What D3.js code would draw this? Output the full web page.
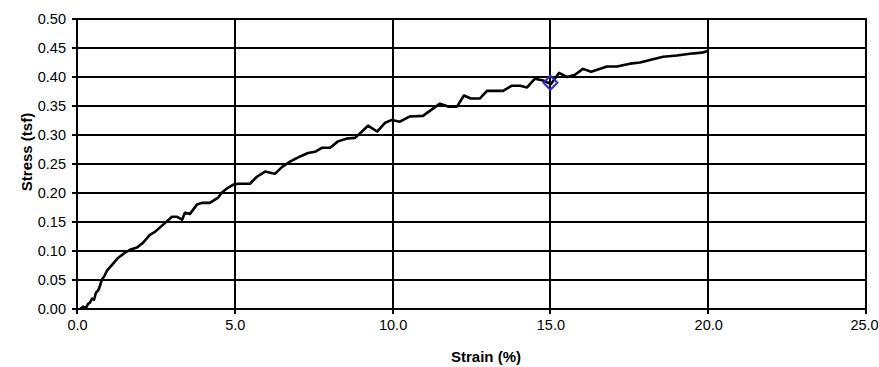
<!DOCTYPE html>
<html>
<head>
<meta charset="utf-8">
<script src="https://cdn.jsdelivr.net/npm/d3@7"></script>
<style>
  html, body { margin: 0; padding: 0; background: #fff; }
  svg { display: block; }
  text { font-family: "Liberation Sans", Arial, sans-serif; fill: #000; }
</style>
</head>
<body>
<svg id="chart" width="879" height="367"></svg>
<script>
// ---- data ----
const strain = [0.10,0.19,0.29,0.35,0.41,0.48,0.54,0.60,0.67,0.73,0.79,0.86,0.95,1.11,1.30,1.52,1.68,1.90,2.09,2.31,2.47,2.72,3.01,3.17,3.33,3.42,3.58,3.80,3.96,4.21,4.47,4.59,4.78,4.94,5.10,5.48,5.70,5.96,6.12,6.27,6.50,6.75,7.07,7.32,7.54,7.76,8.02,8.27,8.56,8.81,9.03,9.22,9.51,9.76,9.98,10.23,10.55,10.96,11.50,11.76,12.04,12.26,12.48,12.77,12.99,13.50,13.78,14.04,14.26,14.51,14.77,15.02,15.27,15.53,15.78,16.03,16.29,16.51,16.79,17.11,17.52,17.84,18.06,18.57,19.01,19.42,19.80,19.99];
const stress = [0.000,0.004,0.002,0.009,0.011,0.018,0.016,0.028,0.032,0.040,0.051,0.056,0.066,0.076,0.088,0.097,0.102,0.106,0.114,0.128,0.133,0.145,0.159,0.159,0.154,0.166,0.164,0.180,0.183,0.183,0.192,0.201,0.209,0.214,0.216,0.216,0.228,0.237,0.235,0.233,0.245,0.254,0.263,0.269,0.271,0.278,0.278,0.289,0.294,0.295,0.306,0.316,0.306,0.321,0.326,0.323,0.332,0.333,0.354,0.349,0.349,0.368,0.363,0.363,0.376,0.376,0.385,0.385,0.382,0.397,0.394,0.388,0.407,0.400,0.404,0.414,0.409,0.413,0.418,0.418,0.423,0.425,0.428,0.435,0.437,0.440,0.442,0.445];
const markerStrain = [15.0];
const markerStress = [0.39];
const xTicks = [0, 5, 10, 15, 20, 25];
const yTicks = [0, 0.05, 0.10, 0.15, 0.20, 0.25, 0.30, 0.35, 0.40, 0.45, 0.50];
const xTitle = "Strain (%)";
const yTitle = "Stress (tsf)";

(function () {
// ---- layout ----
const svg = d3.select("#chart");
const pL = 77, pR = 866, pT = 19, pB = 309;
const x = d3.scaleLinear().domain([0, 25]).range([pL, pR]);
const y = d3.scaleLinear().domain([0, 0.5]).range([pB, pT]);

// grid (integer positions, 2px wide -> crisp)
const grid = svg.append("g");
grid.selectAll("line.h").data(yTicks).join("line")
  .attr("x1", pL - 5).attr("x2", pR + 1)
  .attr("y1", d => Math.round(y(d))).attr("y2", d => Math.round(y(d)))
  .attr("stroke", "#000").attr("stroke-width", 2);
grid.selectAll("line.v").data(xTicks).join("line")
  .attr("y1", pT - 1).attr("y2", pB + 5)
  .attr("x1", d => Math.round(x(d))).attr("x2", d => Math.round(x(d)))
  .attr("stroke", "#000").attr("stroke-width", 2);

// axes (labels only; lines drawn by grid)
const yAxis = d3.axisLeft(y).tickValues(yTicks).tickFormat(d3.format(".2f")).tickSize(0).tickPadding(11);
const gy = svg.append("g").attr("transform", `translate(${pL},0)`).call(yAxis);
gy.select(".domain").remove();
gy.selectAll(".tick text").style("font-size", "14.5px").style("font-family", "Liberation Sans, Arial, sans-serif").attr("fill", "#000");

const xAxis = d3.axisBottom(x).tickValues(xTicks).tickFormat(d3.format(".1f")).tickSize(0).tickPadding(11);
const gx = svg.append("g").attr("transform", `translate(0,${pB})`).call(xAxis);
gx.select(".domain").remove();
gx.selectAll(".tick text").style("font-size", "14.5px").style("font-family", "Liberation Sans, Arial, sans-serif").attr("fill", "#000");
// keep the last label inside the window
gx.selectAll(".tick text").filter(d => d === 25).attr("dx", -2);

// data line
const pts = strain.map((s, i) => [s, stress[i]]);
svg.append("path").datum(pts)
  .attr("fill", "none").attr("stroke", "#000").attr("stroke-width", 2.6)
  .attr("stroke-linejoin", "round")
  .attr("d", d3.line().x(d => x(d[0])).y(d => y(d[1])));

// marker (diamond)
svg.selectAll("path.marker").data(markerStrain.map((s, i) => [s, markerStress[i]])).join("path")
  .attr("class", "marker")
  .attr("transform", d => `translate(${x(d[0])},${y(d[1])})`)
  .attr("d", "M0,-7L7,0L0,7L-7,0Z")
  .attr("fill", "none").attr("stroke", "#2d2dc8").attr("stroke-width", 2);

// titles
svg.append("text").attr("x", 486).attr("y", 362).attr("text-anchor", "middle")
  .style("font-size", "15px").style("font-weight", "bold").text(xTitle);
svg.append("text").attr("transform", "translate(32,152) rotate(-90)").attr("text-anchor", "middle")
  .style("font-size", "15px").style("font-weight", "bold").text(yTitle);
})();
</script>
</body>
</html>
